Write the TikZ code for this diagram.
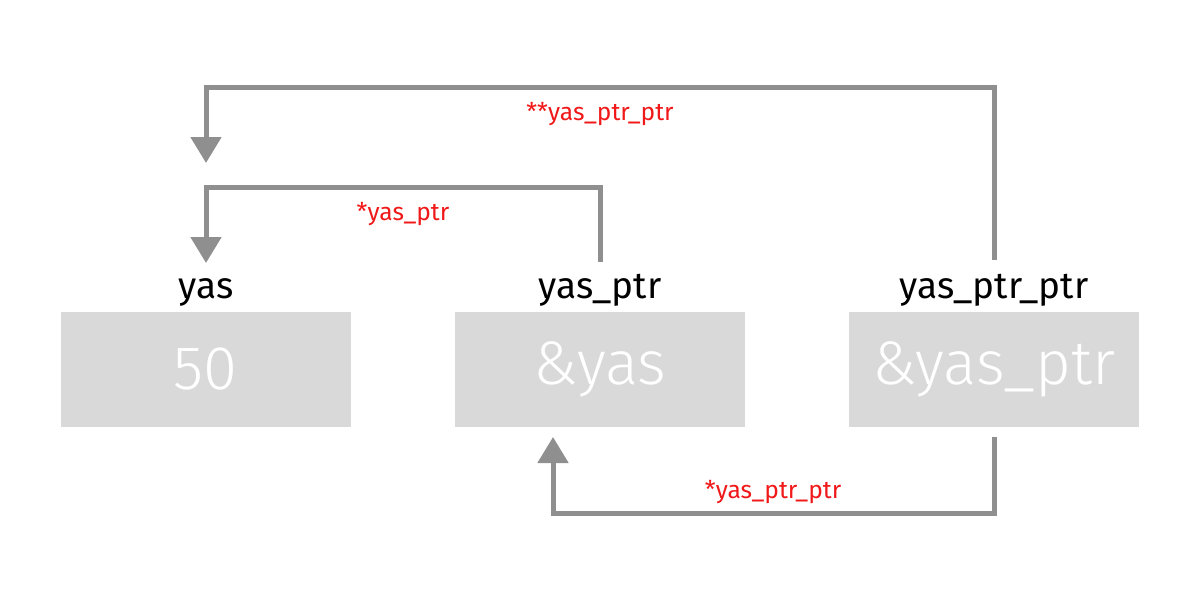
\documentclass[tikz,border=0pt]{standalone}
\usepackage{fontspec}
\setmainfont{Fira Sans}
\newfontfamily\lightfont{Fira Sans Light}
\usetikzlibrary{arrows.meta}
\definecolor{boxgray}{HTML}{D9D9D9}
\definecolor{linegray}{HTML}{8F8F8F}
\definecolor{lblred}{HTML}{F01818}
\begin{document}
\begin{tikzpicture}[x=0.5pt,y=-0.5pt,
  cell/.style={fill=boxgray, minimum width=145pt, minimum height=57.5pt, inner sep=0pt, text=white, font=\lightfont\fontsize{30.8}{36}\selectfont},
  varname/.style={font=\fontsize{18.5}{22}\selectfont, text=black, inner sep=0pt, anchor=base},
  ptrlbl/.style={font=\fontsize{12.3}{15}\selectfont, text=lblred, inner sep=0pt, anchor=base},
  conn/.style={draw=linegray, line width=2.5pt},
  connarrow/.style={conn, -{Triangle[width=15pt,length=13pt]}}
]
\path[use as bounding box] (0,0) rectangle (1200,600);
\node[cell] (b1) at (205.5,369.5) {50};
\node[cell] (b2) at (600,369.5) {\&yas};
\node[cell] (b3) at (994,369.5) {\&yas\_ptr};
\node[varname] (n1) at (206,298) {yas};
\node[varname] (n2) at (600,298) {yas\_ptr};
\node[varname] (n3) at (994,298) {yas\_ptr\_ptr};
\node[ptrlbl] (l1) at (600,120) {**yas\_ptr\_ptr};
\node[ptrlbl] (l2) at (403,220) {*yas\_ptr};
\node[ptrlbl] (l3) at (773,498) {*yas\_ptr\_ptr};
\coordinate (s1) at (600,262);
\coordinate (t1) at (206,263);
\coordinate (s2) at (994,260);
\coordinate (t2) at (206,163);
\coordinate (s3) at (994,437);
\coordinate (t3) at (553,437);
\draw[connarrow] (s1) -- (600,187) -- (206,187) -- (t1);
\draw[connarrow] (s2) -- (994,87) -- (206,87) -- (t2);
\draw[connarrow] (s3) -- (994,513) -- (553,513) -- (t3);
\end{tikzpicture}
\end{document}
